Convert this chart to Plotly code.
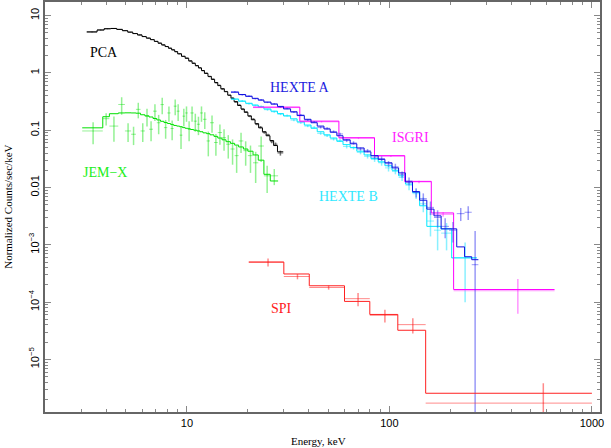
import plotly.graph_objects as go

# ── PCA (RXTE) ────────────────────────────────────────────────────────────────
pca_edges = [3.2, 3.6, 3.9, 4.2, 4.5, 4.8, 5.1, 5.4, 5.7, 6.0, 6.3, 6.6, 6.9, 7.2, 7.5,
             7.8, 8.1, 8.4, 8.7, 9.0, 9.4, 9.8, 10.2, 10.6, 11.0, 11.4, 11.8, 12.2, 12.7,
             13.2, 13.7, 14.2, 14.7, 15.3, 15.9, 16.5, 17.1, 17.8, 18.5, 19.2, 20.0, 20.8,
             21.7, 22.6, 23.6, 24.6, 25.7, 26.8, 28.0, 29.9]
pca_model = [5.2, 5.6, 5.9, 5.95, 5.75, 5.45, 5.15, 4.85, 4.6, 4.3, 4.05, 3.8, 3.55, 3.3,
             3.08, 2.88, 2.7, 2.52, 2.35, 2.15, 1.95, 1.8, 1.62, 1.47, 1.34, 1.22, 1.1,
             0.98, 0.87, 0.77, 0.68, 0.6, 0.53, 0.47, 0.41, 0.36, 0.315, 0.27, 0.235,
             0.205, 0.178, 0.152, 0.13, 0.11, 0.094, 0.08, 0.066, 0.054, 0.042]
pca_data = [5.15, 5.62, 5.88, 5.97, 5.73, 5.47, 5.13, 4.87, 4.58, 4.32, 4.03, 3.82, 3.54,
            3.31, 3.07, 2.89, 2.69, 2.53, 2.34, 2.16, 1.94, 1.81, 1.61, 1.48, 1.33, 1.23,
            1.09, 0.99, 0.86, 0.78, 0.67, 0.61, 0.52, 0.475, 0.405, 0.365, 0.31, 0.275,
            0.23, 0.21, 0.174, 0.156, 0.127, 0.113, 0.091, 0.083, 0.063, 0.057, 0.04]
pca_err = [0.05, 0.05, 0.05, 0.05, 0.05, 0.05, 0.04, 0.04, 0.04, 0.04, 0.04, 0.03, 0.03,
           0.03, 0.03, 0.03, 0.03, 0.02, 0.02, 0.02, 0.02, 0.02, 0.02, 0.02, 0.015, 0.015,
           0.015, 0.012, 0.012, 0.01, 0.01, 0.009, 0.008, 0.008, 0.007, 0.007, 0.006,
           0.006, 0.006, 0.005, 0.005, 0.005, 0.005, 0.005, 0.004, 0.004, 0.004, 0.004,
           0.004]

# ── JEM-X ─────────────────────────────────────────────────────────────────────
jemx_edges = [3.04, 3.84, 4.14, 4.58, 4.94, 5.3, 5.6, 5.9, 6.2, 6.5, 6.8, 7.1, 7.4, 7.7,
              8.0, 8.3, 8.6, 8.9, 9.2, 9.5, 9.8, 10.1, 10.4, 10.8, 11.2, 11.6, 12.0, 12.5,
              13.0, 13.6, 14.2, 14.9, 15.6, 16.4, 17.2, 18.0, 19.0, 20.0, 21.2, 22.5,
              24.0, 25.8, 28.2]
jemx_model = [0.11, 0.172, 0.194, 0.2, 0.201, 0.2, 0.198, 0.186, 0.178, 0.17, 0.16, 0.151,
              0.143, 0.136, 0.131, 0.126, 0.121, 0.118, 0.115, 0.111, 0.108, 0.106, 0.103,
              0.1, 0.097, 0.094, 0.09, 0.087, 0.083, 0.078, 0.073, 0.068, 0.063, 0.059,
              0.055, 0.051, 0.047, 0.043, 0.037, 0.03, 0.017, 0.013]
jemx_data = [0.097, 0.159, 0.118, 0.281, 0.097, 0.085, 0.231, 0.097, 0.176, 0.104, 0.215,
             0.135, 0.28, 0.111, 0.2, 0.107, 0.263, 0.215, 0.082, 0.176, 0.2, 0.104, 0.2,
             0.144, 0.127, 0.2, 0.155, 0.065, 0.135, 0.061, 0.091, 0.074, 0.057, 0.047,
             0.036, 0.065, 0.044, 0.036, 0.027, 0.053, 0.016, 0.016]
jemx_err = [0.04, 0.038, 0.055, 0.095, 0.035, 0.03, 0.07, 0.035, 0.06, 0.04, 0.07, 0.05,
            0.09, 0.04, 0.06, 0.04, 0.08, 0.07, 0.035, 0.06, 0.06, 0.04, 0.06, 0.05, 0.045,
            0.06, 0.05, 0.03, 0.045, 0.025, 0.035, 0.03, 0.025, 0.022, 0.018, 0.025, 0.02,
            0.018, 0.015, 0.025, 0.008, 0.005]

# ── HEXTE A ───────────────────────────────────────────────────────────────────
hexa_edges = [16.5, 18, 19.5, 21, 22.5, 24, 26, 28, 30, 32.5, 35, 38, 41, 44, 47.5, 51,
              55, 59, 64, 69, 75, 81, 88, 95, 103, 111, 120, 130, 141, 153, 166, 180,
              197, 215, 235, 255, 275]
hexa_model = [0.46, 0.42, 0.39, 0.36, 0.335, 0.31, 0.285, 0.26, 0.235, 0.21, 0.18, 0.155,
              0.135, 0.118, 0.105, 0.092, 0.08, 0.068, 0.058, 0.049, 0.042, 0.036, 0.031,
              0.027, 0.022, 0.018, 0.0125, 0.0085, 0.006, 0.0042, 0.0032, 0.0019, 0.0019,
              0.00092, 0.00062, 0.00055]
hexa_data = [0.47, 0.415, 0.395, 0.355, 0.34, 0.305, 0.29, 0.255, 0.24, 0.205, 0.185,
             0.15, 0.14, 0.112, 0.108, 0.095, 0.086, 0.066, 0.06, 0.047, 0.044, 0.034,
             0.032, 0.026, 0.023, 0.017, 0.013, 0.0082, 0.0064, 0.0045, 0.003, 0.0021,
             0.0018, 0.0035, 0.0037, 0.00045]
hexa_err = [0.012, 0.011, 0.01, 0.009, 0.009, 0.008, 0.008, 0.007, 0.007, 0.006, 0.006,
            0.005, 0.005, 0.005, 0.005, 0.004, 0.004, 0.004, 0.004, 0.003, 0.003, 0.003,
            0.003, 0.003, 0.003, 0.002, 0.002, 0.0015, 0.0015, 0.0012, 0.001, 0.0008,
            0.0007, 0.0009, 0.001, 0.0013]

# ── HEXTE B ───────────────────────────────────────────────────────────────────
hexb_edges = [16.5, 18, 19.5, 21, 22.5, 24, 26, 28, 30, 32.5, 35, 38, 41, 44, 47.5, 51,
              55, 59, 64, 69, 75, 81, 88, 95, 103, 111, 120, 130, 141, 153, 166, 180,
              203, 270]
hexb_model = [0.35, 0.32, 0.295, 0.275, 0.255, 0.235, 0.215, 0.195, 0.177, 0.158, 0.14,
              0.123, 0.108, 0.094, 0.083, 0.073, 0.064, 0.056, 0.05, 0.043, 0.037, 0.032,
              0.028, 0.024, 0.02, 0.016, 0.0115, 0.0082, 0.0048, 0.0021, 0.0021, 0.0019,
              0.00059]
hexb_data = [0.345, 0.325, 0.29, 0.27, 0.26, 0.228, 0.21, 0.19, 0.18, 0.15, 0.135, 0.118,
             0.112, 0.088, 0.08, 0.07, 0.066, 0.052, 0.049, 0.041, 0.035, 0.031, 0.027,
             0.022, 0.019, 0.015, 0.011, 0.0078, 0.0052, 0.0026, 0.0018, 0.0016, 0.0006]
hexb_err = [0.012, 0.011, 0.01, 0.009, 0.009, 0.008, 0.008, 0.007, 0.007, 0.006, 0.006,
            0.005, 0.005, 0.005, 0.004, 0.004, 0.004, 0.004, 0.003, 0.003, 0.003, 0.003,
            0.003, 0.003, 0.002, 0.002, 0.002, 0.0015, 0.0015, 0.0012, 0.001, 0.0008,
            0.0005]

# ── ISGRI ─────────────────────────────────────────────────────────────────────
isgri_edges = [21.2, 36.1, 56.3, 84.4, 119, 161, 207.5, 654]
isgri_model = [0.253, 0.144, 0.074, 0.036, 0.0128, 0.0036, 1.66e-4]
isgri_data = [0.248, 0.14, 0.072, 0.035, 0.0125, 0.0034, 1.58e-4]
isgri_err = [0.004, 0.003, 0.002, 0.001, 0.0006, 0.0003, 0.95e-4]

# ── SPI ───────────────────────────────────────────────────────────────────────
spi_edges = [20.2, 30.1, 40.2, 60, 80, 110, 151, 1000]
spi_model = [5.0e-4, 3.1e-4, 1.93e-4, 1.03e-4, 6.1e-5, 3.23e-5, 2.57e-6]
spi_data = [5.0e-4, 2.8e-4, 1.8e-4, 1.15e-4, 5.9e-5, 4.05e-5, 1.73e-6]
spi_err = [0.8e-4, 0.3e-4, 0.15e-4, 0.3e-4, 1.5e-5, 1.2e-5, 2.1e-6]

# axis ticks
ytick_vals = [1e-5, 1e-4, 1e-3, 0.01, 0.1, 1, 10]
ytick_text = ["10<sup>\u22125</sup>", "10<sup>\u22124</sup>", "10<sup>\u22123</sup>",
              "0.01", "0.1", "1", "10"]
xtick_vals = [10, 100, 1000]
xtick_text = ["10", "100", "1000"]

SERIF = "Liberation Serif, Times New Roman, serif"
SANS = "Liberation Sans, Arial, sans-serif"


def add_instrument(fig, edges, model, data, err, line_color, data_color):
    """Data crosses at bin centres plus the folded model as a step histogram."""
    lo, hi = edges[:-1], edges[1:]
    mid = [(a + b) / 2 for a, b in zip(lo, hi)]
    fig.add_trace(go.Scatter(
        x=mid, y=data, mode="markers",
        marker=dict(size=1, color=data_color),
        error_x=dict(type="data", symmetric=False,
                     array=[h - m for h, m in zip(hi, mid)],
                     arrayminus=[m - l for m, l in zip(mid, lo)],
                     width=0, thickness=1, color=data_color),
        error_y=dict(type="data", array=err, width=0, thickness=1.5, color=data_color),
        hoverinfo="skip", showlegend=False,
    ))
    fig.add_trace(go.Scatter(
        x=edges, y=model + [model[-1]], mode="lines",
        line=dict(shape="hv", color=line_color, width=1),
        hoverinfo="skip", showlegend=False,
    ))


fig = go.Figure()
add_instrument(fig, pca_edges, pca_model, pca_data, pca_err, "#000000", "rgba(90,90,90,0.85)")
add_instrument(fig, jemx_edges, jemx_model, jemx_data, jemx_err, "#00e000", "rgba(60,230,60,0.55)")
add_instrument(fig, hexb_edges, hexb_model, hexb_data, hexb_err, "#00e8ff", "rgba(60,230,255,0.6)")
add_instrument(fig, isgri_edges, isgri_model, isgri_data, isgri_err, "#ff00ff", "rgba(255,80,255,0.6)")
add_instrument(fig, hexa_edges, hexa_model, hexa_data, hexa_err, "#1010e0", "rgba(70,70,240,0.55)")
add_instrument(fig, spi_edges, spi_model, spi_data, spi_err, "#ff2020", "rgba(255,60,60,0.6)")

labels = [
    ("PCA", 0.107, 0.878, "#000000"),
    ("HEXTE A", 0.459, 0.792, "#2020e0"),
    ("ISGRI", 0.658, 0.670, "#ff20ff"),
    ("HEXTE B", 0.546, 0.525, "#30e8ff"),
    ("JEM\u2212X", 0.108, 0.585, "#20ee20"),
    ("SPI", 0.426, 0.253, "#ff2020"),
]
for text, xp, yp, col in labels:
    fig.add_annotation(text=text, x=xp, y=yp, xref="paper", yref="paper",
                       xanchor="center", yanchor="middle", showarrow=False,
                       font=dict(family=SERIF, size=14, color=col))

fig.add_annotation(text="Energy, keV", x=0.493, y=-0.071, xref="paper", yref="paper",
                   xanchor="center", yanchor="middle", showarrow=False,
                   font=dict(family=SERIF, size=11, color="#000"))
fig.add_annotation(text="Normalized Counts/sec/keV", x=-0.067, y=0.5, xref="paper",
                   yref="paper", xanchor="center", yanchor="middle", textangle=-90,
                   showarrow=False, font=dict(family=SERIF, size=11, color="#000"))

minor_x = [m * 10 ** k for k in range(0, 4) for m in range(2, 10)]
minor_y = [m * 10 ** k for k in range(-7, 2) for m in range(2, 10)]

fig.update_xaxes(
    type="log", range=[0.299, 3.04], showgrid=False, zeroline=False, automargin=False,
    showline=True, linecolor="#666", linewidth=1.5, mirror="allticks",
    ticks="inside", ticklen=6, tickcolor="#888", tickwidth=1,
    tickvals=xtick_vals, ticktext=xtick_text,
    tickfont=dict(family=SANS, size=11, color="#000"),
    minor=dict(tickvals=minor_x, ticks="inside", ticklen=3, tickcolor="#888", showgrid=False),
)
fig.update_yaxes(
    type="log", range=[-5.917, 1.237], showgrid=False, zeroline=False, automargin=False,
    showline=True, linecolor="#666", linewidth=1.5, mirror="allticks",
    ticks="inside", ticklen=6, tickcolor="#888", tickwidth=1,
    tickvals=ytick_vals, ticktext=ytick_text, tickangle=-90,
    tickfont=dict(family=SANS, size=11, color="#000"),
    minor=dict(tickvals=minor_y, ticks="inside", ticklen=3, tickcolor="#888", showgrid=False),
)
fig.update_layout(
    width=611, height=448,
    margin=dict(l=45, r=11, t=2, b=36),
    paper_bgcolor="white", plot_bgcolor="white",
    showlegend=False,
)

fig.write_html("out.html", config={"displayModeBar": False},
               post_script="document.body.style.margin='0';")
